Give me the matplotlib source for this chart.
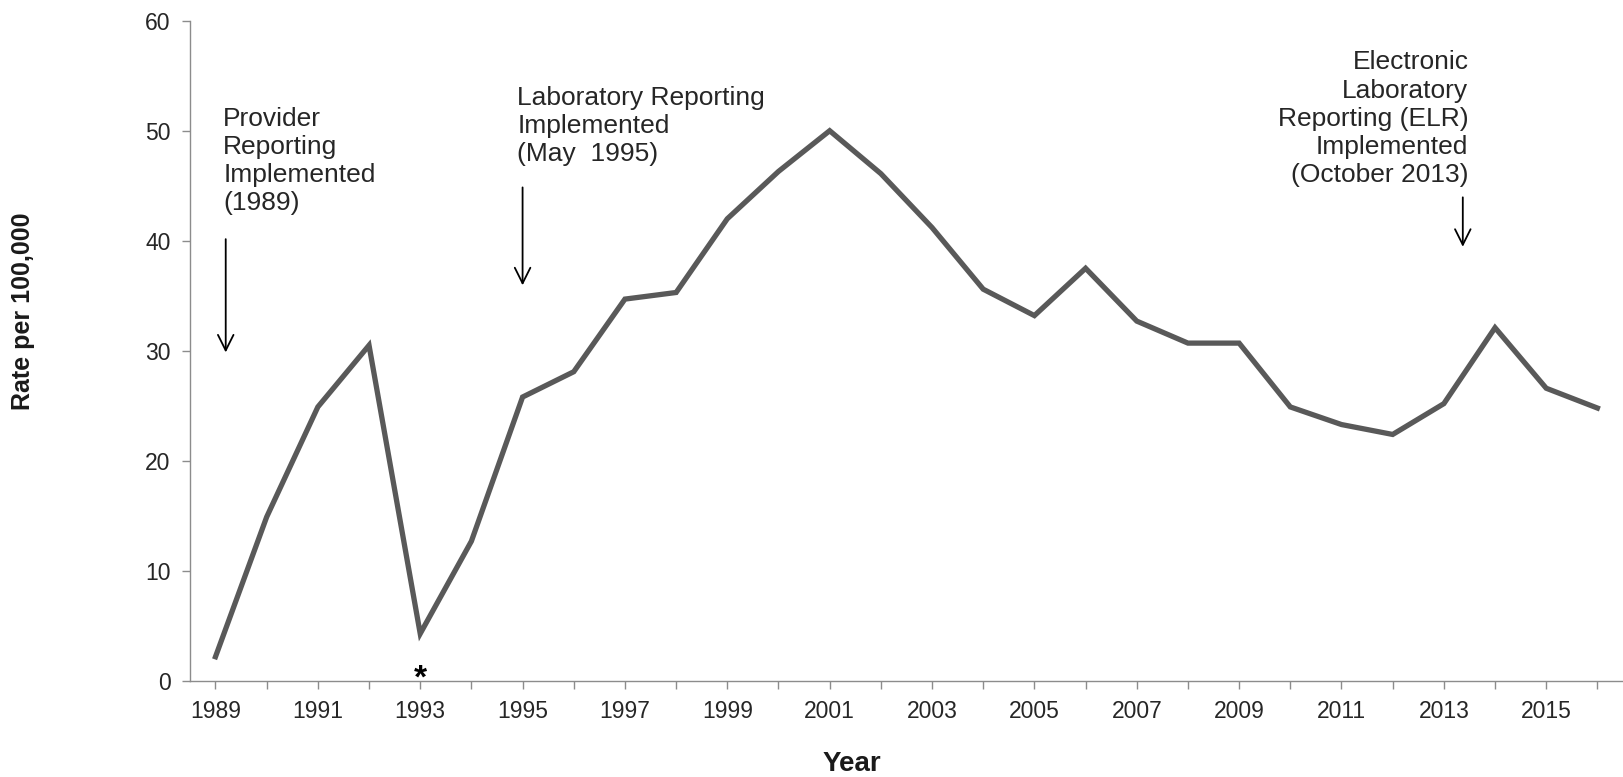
import matplotlib.pyplot as plt

# =========================
# 1. DATA
# =========================
years = list(range(1989, 2017))
rates = [2.2, 14.9, 24.9, 30.5, 4.3, 12.7, 25.8, 28.1, 34.7, 35.3,
         42.0, 46.3, 50.0, 46.1, 41.2, 35.6, 33.2, 37.5, 32.7, 30.7,
         30.7, 24.9, 23.3, 22.4, 25.2, 32.1, 26.6, 24.8]
tick_years = list(range(1989, 2017, 2))

plt.rcParams['font.family'] = ['Liberation Sans', 'DejaVu Sans']

# =========================
# 2. FIGURE
# =========================
fig = plt.figure(figsize=(16.23, 7.77), dpi=100)
ax = fig.add_axes([0.117, 0.1236, 0.883, 0.8498])

ax.plot(years, rates, color='#595959', linewidth=3.8, solid_joinstyle='miter')

ax.set_xlim(1988.5, 2016.5)
ax.set_ylim(0, 60)
ax.set_yticks(range(0, 61, 10))
ax.set_xticks(years, minor=True)
ax.set_xticks(tick_years)
ax.set_xticklabels([str(y) for y in tick_years])

for side in ['top', 'right']:
    ax.spines[side].set_visible(False)
for side in ['left', 'bottom']:
    ax.spines[side].set_color('#8c8c8c')
    ax.spines[side].set_linewidth(1.0)

ax.tick_params(axis='both', which='both', direction='out', color='#8c8c8c',
               length=6, width=1.0, labelsize=16.5, labelcolor='#262626')
ax.tick_params(axis='x', which='major', pad=8)
ax.tick_params(axis='y', pad=8)

# =========================
# 3. ANNOTATIONS
# =========================
txt_kw = dict(fontsize=19, color='#262626', linespacing=1.22)
arrow_kw = dict(arrowstyle='->', color='black', lw=1.3, mutation_scale=28)

ax.text(1989.15, 52.2, "Provider\nReporting\nImplemented\n(1989)", ha='left', va='top', **txt_kw)
ax.annotate("", xy=(1989.2, 29.6), xytext=(1989.2, 40.4), arrowprops=arrow_kw)

ax.text(1994.9, 54.1, "Laboratory Reporting\nImplemented\n(May  1995)", ha='left', va='top', **txt_kw)
ax.annotate("", xy=(1995.0, 35.7), xytext=(1995.0, 45.1), arrowprops=arrow_kw)

ax.text(2013.48, 57.3, "Electronic\nLaboratory\nReporting (ELR)\nImplemented\n(October 2013)",
        ha='right', va='top', multialignment='right', **txt_kw)
ax.annotate("", xy=(2013.37, 39.2), xytext=(2013.37, 44.2), arrowprops=arrow_kw)

ax.text(1993, 0.2, "*", ha='center', va='center', fontsize=24, fontweight='bold', color='black')

# =========================
# 4. AXIS LABELS
# =========================
fig.text(852 / 1623, 1 - 764 / 777, "Year", ha='center', va='center',
         fontsize=20, fontweight='bold', color='#1a1a1a')
fig.text(23 / 1623, 1 - 311 / 777, "Rate per 100,000", ha='center', va='center',
         rotation=90, fontsize=18, fontweight='bold', color='#1a1a1a')

fig.savefig("out.png", dpi=100)
